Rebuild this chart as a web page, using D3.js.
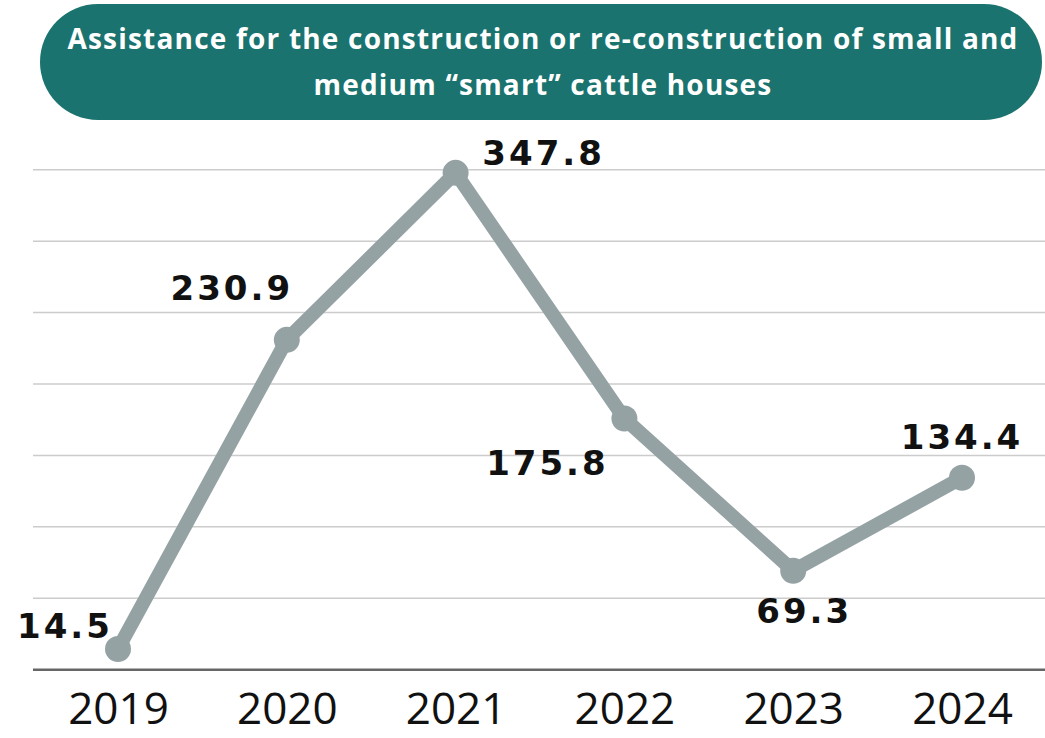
<!DOCTYPE html>
<html>
<head>
<meta charset="utf-8">
<script src="https://cdn.jsdelivr.net/npm/d3@7"></script>
<style>
  body { margin: 0; background: #fff; }
  svg { display: block; }
</style>
</head>
<body>
<svg id="chart" width="1045" height="738"></svg>
<script>
var years = ["2019", "2020", "2021", "2022", "2023", "2024"];
var values = [14.5, 230.9, 347.8, 175.8, 69.3, 134.4];
var gridValues = [50, 100, 150, 200, 250, 300, 350];
var titleLines = ["Assistance for the construction or re-construction of small and",
                  "medium \u201csmart\u201d cattle houses"];
// label offsets relative to each point (dx, dy)
var labelOffsets = [[-53, -11], [-55, -40], [88, -8], [-77, 56], [11, 52], [0, -29]];

var svg = d3.select("#chart");
var width = 1045, height = 738;

var x = d3.scalePoint().domain(years).range([118, 962]);
var y = d3.scaleLinear().domain([0, 350]).range([669.7, 169.7]);

// title box
svg.append("rect")
    .attr("x", 40).attr("y", 4)
    .attr("width", 1002).attr("height", 116)
    .attr("rx", 58).attr("ry", 58)
    .attr("fill", "#1a736e");

svg.append("g").selectAll("text")
    .data(titleLines)
    .enter()
    .append("text")
    .attr("x", 543)
    .attr("y", function (d, i) { return 49 + i * 46; })
    .attr("text-anchor", "middle")
    .attr("fill", "#fff")
    .style("font-family", "'Open Sans', sans-serif")
    .style("font-weight", 700)
    .style("font-size", "28px")
    .style("letter-spacing", "1.2px")
    .text(function (d) { return d; });

// gridlines
svg.append("g").selectAll("line")
    .data(gridValues)
    .enter()
    .append("line")
    .attr("x1", 33).attr("x2", width)
    .attr("y1", function (d) { return y(d); })
    .attr("y2", function (d) { return y(d); })
    .attr("stroke", "#cccccc")
    .attr("stroke-width", 1.5);

// x axis
var xAxis = svg.append("g")
    .attr("transform", "translate(0," + y(0) + ")")
    .call(d3.axisBottom(x).tickSize(0).tickPadding(23));
xAxis.select(".domain").remove();
xAxis.append("line")
    .attr("x1", 33).attr("x2", width)
    .attr("stroke", "#666").attr("stroke-width", 2.5);
xAxis.selectAll(".tick text")
    .attr("fill", "#111")
    .style("font-family", "'Open Sans', sans-serif")
    .style("font-size", "44px");

// line
var line = d3.line()
    .x(function (d, i) { return x(years[i]); })
    .y(function (d) { return y(d); });

svg.append("path")
    .datum(values)
    .attr("d", line)
    .attr("fill", "none")
    .attr("stroke", "#95a2a4")
    .attr("stroke-width", 14)
    .attr("stroke-linejoin", "round");

svg.append("g").selectAll("circle")
    .data(values)
    .enter()
    .append("circle")
    .attr("cx", function (d, i) { return x(years[i]); })
    .attr("cy", function (d) { return y(d); })
    .attr("r", 13)
    .attr("fill", "#95a2a4");

// data labels
svg.append("g").selectAll("text")
    .data(values)
    .enter()
    .append("text")
    .attr("x", function (d, i) { return x(years[i]) + labelOffsets[i][0]; })
    .attr("y", function (d, i) { return y(d) + labelOffsets[i][1]; })
    .attr("text-anchor", "middle")
    .attr("fill", "#111")
    .style("font-family", "'DejaVu Sans', sans-serif")
    .style("font-weight", 700)
    .style("font-size", "34px")
    .style("letter-spacing", "3px")
    .text(function (d) { return d.toFixed(1); });
</script>
</body>
</html>
